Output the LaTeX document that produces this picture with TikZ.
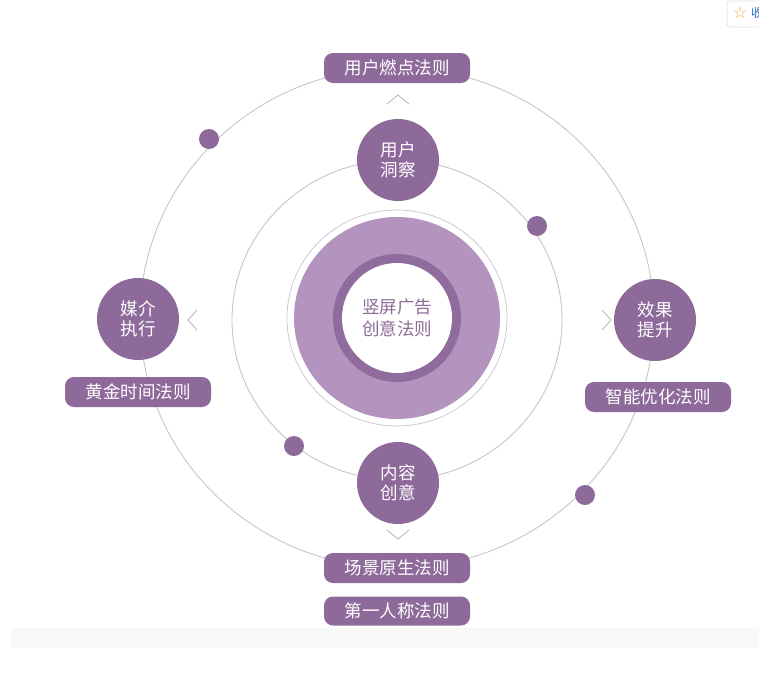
\documentclass[tikz,border=0pt]{standalone}
\usepackage{fontspec}
\newfontfamily\cjk{Noto Sans CJK SC}
\newfontfamily\dejavu{DejaVu Sans}
\definecolor{purp}{HTML}{8E6A9B}
\definecolor{discc}{HTML}{B394BE}
\definecolor{ringc}{HTML}{8F6B9E}
\definecolor{linec}{HTML}{CBC3CE}
\definecolor{textp}{HTML}{8C6C98}
\definecolor{chevc}{HTML}{B8B2BB}
\definecolor{bandc}{HTML}{F8F8F8}
\definecolor{starc}{HTML}{F2A33A}
\definecolor{bluec}{HTML}{2F6FC0}
\tikzset{
  ln/.style={draw=linec, line width=0.9pt},
  chev/.style={draw=chevc, line width=0.8pt},
  bignode/.style={circle, fill=purp, minimum size=82pt, inner sep=0pt, text=white, align=center,
    font=\cjk\fontsize{17.5}{20.5}\selectfont},
  pill/.style={rectangle, rounded corners=9pt, fill=purp, minimum width=146pt, minimum height=30pt,
    inner sep=0pt, text=white, font=\cjk\fontsize{17.5}{20}\selectfont},
  dotnode/.style={circle, fill=purp, minimum size=20pt, inner sep=0pt},
  coretext/.style={align=center, text=textp, font=\cjk\fontsize{17.5}{22}\selectfont}
}
\begin{document}
\begin{tikzpicture}[x=1pt,y=-1pt]
\useasboundingbox (0,0) rectangle (759,672);
\fill[white] (0,0) rectangle (759,672);
% bottom band
\fill[bandc] (11,628) rectangle (759,648);
% rings
\draw[ln] (397,318) ellipse [x radius=257, y radius=250];
\draw[ln] (397,320) ellipse [x radius=165, y radius=160];
\draw[ln, line width=0.7pt] (397,318) ellipse [x radius=110, y radius=108];
\fill[discc] (397,318) ellipse [x radius=103, y radius=101];
\fill[ringc] (397,318) circle (64);
\fill[white] (397,318) circle (55);
\node[coretext] (core) at (397,318) {竖屏广告\\创意法则};
% chevrons
\draw[chev] (387,104) -- (398,95) -- (409,104);
\draw[chev] (387,530) -- (398,539) -- (409,530);
\draw[chev] (197,310) -- (188,320) -- (197,330);
\draw[chev] (602,310) -- (611,320) -- (602,330);
% main nodes
\node[bignode] (insight) at (398,160) {用户\\洞察};
\node[bignode] (content) at (398,483) {内容\\创意};
\node[bignode] (media) at (138,319) {媒介\\执行};
\node[bignode] (effect) at (655,320) {效果\\提升};
% pills
\node[pill] (p1) at (397,68) {用户燃点法则};
\node[pill] (p2) at (658,397) {智能优化法则};
\node[pill] (p3) at (138,392) {黄金时间法则};
\node[pill] (p4) at (397,568) {场景原生法则};
\node[pill, minimum height=29pt] (p5) at (397,611) {第一人称法则};
% dots
\node[dotnode] (d1) at (209,139) {};
\node[dotnode] (d2) at (537,226) {};
\node[dotnode] (d3) at (294,446) {};
\node[dotnode] (d4) at (585,495) {};
% corner icon
\begin{scope}
\clip (0,0) rectangle (759,672);
\draw[draw=black!12, fill=white, rounded corners=3pt, line width=0.6pt] (727,1) rectangle (775,27);
\node[text=starc, font=\dejavu\fontsize{16}{16}\selectfont, inner sep=0pt] (star) at (740,13) {☆};
\node[text=bluec, font=\cjk\fontsize{12}{12}\selectfont, inner sep=0pt, anchor=west] (bk) at (751,13) {收};
\end{scope}
\end{tikzpicture}
\end{document}
